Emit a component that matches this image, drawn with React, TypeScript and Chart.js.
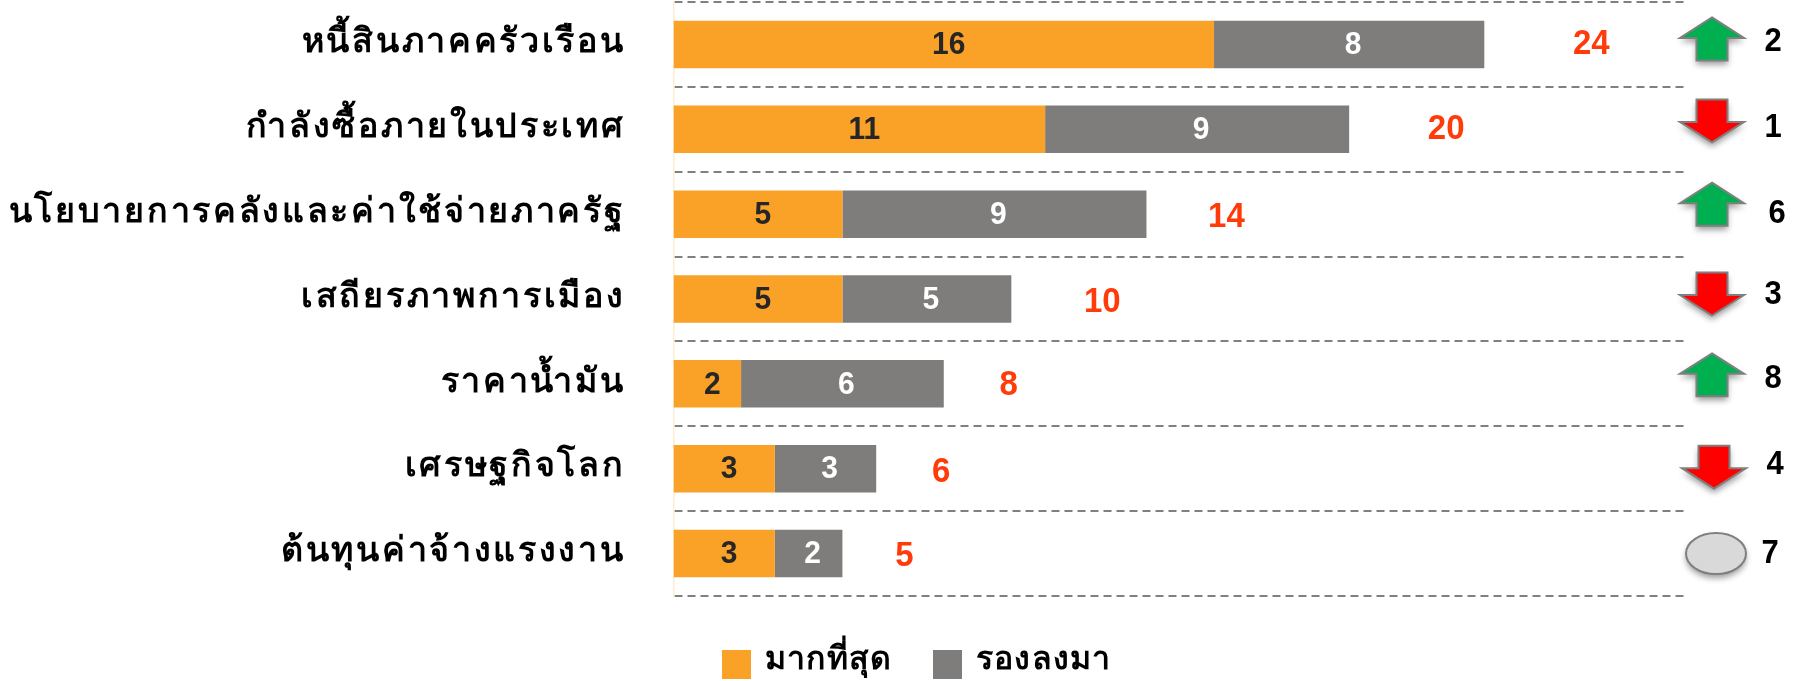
import React, { useEffect, useRef } from "react";
import { Chart, registerables } from "chart.js";

Chart.register(...registerables);

const categories = [
  "หนี้สินภาคครัวเรือน",
  "กำลังซื้อภายในประเทศ",
  "นโยบายการคลังและค่าใช้จ่ายภาครัฐ",
  "เสถียรภาพการเมือง",
  "ราคาน้ำมัน",
  "เศรษฐกิจโลก",
  "ต้นทุนค่าจ้างแรงงาน",
];
const mostValues = [16, 11, 5, 5, 2, 3, 3];
const nextValues = [8, 9, 9, 5, 6, 3, 2];
const totals = [24, 20, 14, 10, 8, 6, 5];
const ranks = [2, 1, 6, 3, 8, 4, 7];
const trends = ["up", "down", "up", "down", "up", "down", "same"];
const seriesNames = ["มากที่สุด", "รองลงมา"];

const ORANGE = "#FAA228";
const GREY = "#7F7C7C";
const RED = "#FF3B0A";
const NUM_FONT = "'Liberation Sans', Arial, sans-serif";
const THAI_FONT = "'Noto Sans', 'Liberation Sans', sans-serif";

// layout offsets, in pixels
const totalOffsets = [107, 97, 80, 91, 65, 65, 62];
const totalDy = [0, 0, 3, 3, 1, 3, 3];
const rankX = [1773, 1773, 1777, 1773, 1773, 1775, 1770];
const rankDy = [-2.7, -1.5, -0.4, -4, -5, -4, 0.7];
const markerX = [1712, 1712, 1712, 1712, 1712, 1714, 1716];
const markerDy = [0, -3.4, -4.5, 0, -3.5, 3.5, 0];

function arrow(ctx: CanvasRenderingContext2D, cx: number, cy: number, dir: number, fill: string) {
  const h = 21.5;
  const hw = 32;
  const sw = 15.5;
  const neck = -1;
  ctx.save();
  ctx.shadowColor = "rgba(0,0,0,0.4)";
  ctx.shadowBlur = 6;
  ctx.shadowOffsetY = 4;
  ctx.beginPath();
  ctx.moveTo(cx, cy - dir * h);
  ctx.lineTo(cx + hw, cy + dir * neck);
  ctx.lineTo(cx + sw, cy + dir * neck);
  ctx.lineTo(cx + sw, cy + dir * h);
  ctx.lineTo(cx - sw, cy + dir * h);
  ctx.lineTo(cx - sw, cy + dir * neck);
  ctx.lineTo(cx - hw, cy + dir * neck);
  ctx.closePath();
  ctx.fillStyle = fill;
  ctx.fill();
  ctx.shadowColor = "transparent";
  ctx.strokeStyle = "#7F7F7F";
  ctx.lineWidth = 2;
  ctx.lineJoin = "miter";
  ctx.stroke();
  ctx.restore();
}

function tallText(ctx: CanvasRenderingContext2D, s: string, x: number, y: number, sy: number) {
  ctx.save();
  ctx.translate(x, y);
  ctx.scale(1, sy);
  ctx.fillText(s, 0, 0);
  ctx.restore();
}

const overlayPlugin = {
  id: "overlay",
  beforeDraw(chart: any) {
    const s = chart.scales.y;
    if (!s.__wrapped) {
      const orig = s.drawLabels.bind(s);
      s.drawLabels = (area: any) => {
        const c = chart.ctx;
        c.save();
        c.translate(0, -2);
        c.letterSpacing = "2.7px";
        orig(area);
        c.restore();
      };
      s.__wrapped = true;
    }
  },
  afterDatasetsDraw(chart: any) {
    const { ctx, scales } = chart;
    const x = scales.x;
    const y = scales.y;
    ctx.save();
    ctx.textBaseline = "middle";
    ctx.textAlign = "center";

    chart.data.datasets.forEach((ds: any, di: number) => {
      const meta = chart.getDatasetMeta(di);
      meta.data.forEach((bar: any, i: number) => {
        const base = di === 0 ? 0 : mostValues[i];
        const cx = (x.getPixelForValue(base) + x.getPixelForValue(base + ds.data[i])) / 2 + (di === 0 ? 5 : 4);
        ctx.font = `bold 30px ${NUM_FONT}`;
        ctx.fillStyle = di === 0 ? "#262626" : "#FFFFFF";
        tallText(ctx, String(ds.data[i]), cx, bar.y + 1, 1.05);
      });
    });

    totals.forEach((t, i) => {
      const cy = y.getPixelForValue(i);
      ctx.font = `bold 33px ${NUM_FONT}`;
      ctx.fillStyle = RED;
      tallText(ctx, String(t), x.getPixelForValue(t) + totalOffsets[i], cy + totalDy[i], 1.08);

      const mx = markerX[i];
      const my = cy + markerDy[i];
      if (trends[i] === "up") arrow(ctx, mx, my - 5.5, 1, "#00B050");
      else if (trends[i] === "down") arrow(ctx, mx, my - 5, -1, "#FF0000");
      else {
        ctx.save();
        ctx.shadowColor = "rgba(0,0,0,0.4)";
        ctx.shadowBlur = 6;
        ctx.shadowOffsetY = 4;
        ctx.beginPath();
        ctx.ellipse(mx, my, 30, 20.5, 0, 0, Math.PI * 2);
        ctx.fillStyle = "#D9D9D9";
        ctx.fill();
        ctx.shadowColor = "transparent";
        ctx.strokeStyle = "#7F7F7F";
        ctx.lineWidth = 2;
        ctx.stroke();
        ctx.restore();
      }
      ctx.font = `bold 31px ${NUM_FONT}`;
      ctx.fillStyle = "#000000";
      tallText(ctx, String(ranks[i]), rankX[i], cy + rankDy[i], 1.05);
    });

    // legend, read from the datasets
    const legendBoxes = [722, 933];
    ctx.textAlign = "left";
    chart.data.datasets.forEach((ds: any, i: number) => {
      ctx.fillStyle = ds.backgroundColor;
      ctx.fillRect(legendBoxes[i], 650, 29, 29);
      ctx.fillStyle = "#000000";
      ctx.font = `bold 32px ${THAI_FONT}`;
      ctx.letterSpacing = "1.2px";
      ctx.fillText(ds.label, legendBoxes[i] + 43, 660);
      ctx.letterSpacing = "0px";
    });
    ctx.restore();
  },
};

export default function App() {
  const ref = useRef<HTMLCanvasElement>(null);
  useEffect(() => {
    const chart = new Chart(ref.current!, {
      type: "bar",
      data: {
        labels: categories,
        datasets: [
          { label: seriesNames[0], data: mostValues, backgroundColor: ORANGE, barPercentage: 0.56, categoryPercentage: 1 },
          { label: seriesNames[1], data: nextValues, backgroundColor: GREY, barPercentage: 0.56, categoryPercentage: 1 },
        ],
      },
      options: {
        indexAxis: "y",
        responsive: false,
        animation: false,
        layout: { padding: { top: 2, right: 115, bottom: 85, left: 0 } },
        plugins: { legend: { display: false }, tooltip: { enabled: false } },
        scales: {
          x: { stacked: true, min: 0, max: 30, display: false },
          y: {
            stacked: true,
            afterFit(s: any) {
              s.width = 673.5;
              s.paddingTop = 0;
              s.paddingBottom = 0;
            },
            grid: {
              color: "#808080",
              lineWidth: 2,
              drawTicks: false,
            },
            border: { display: true, color: "#FDEBD3", dash: [8, 5], width: 1.5 },
            ticks: {
              autoSkip: false,
              minRotation: 0,
              maxRotation: 0,
              padding: 48,
              color: "#000000",
              font: { family: THAI_FONT, size: 34, weight: "bold" },
            },
          },
        },
      },
      plugins: [overlayPlugin],
    } as any);
    (chart.options.scales as any).y.grid.borderDash = [8, 5];
    chart.update();
    return () => chart.destroy();
  }, []);
  return (
    <div style={{ position: "fixed", left: 0, top: 0, width: 1802, height: 681, background: "#fff" }}>
      <canvas ref={ref} width={1802} height={681} style={{ display: "block", width: 1802, height: 681 }} />
    </div>
  );
}
